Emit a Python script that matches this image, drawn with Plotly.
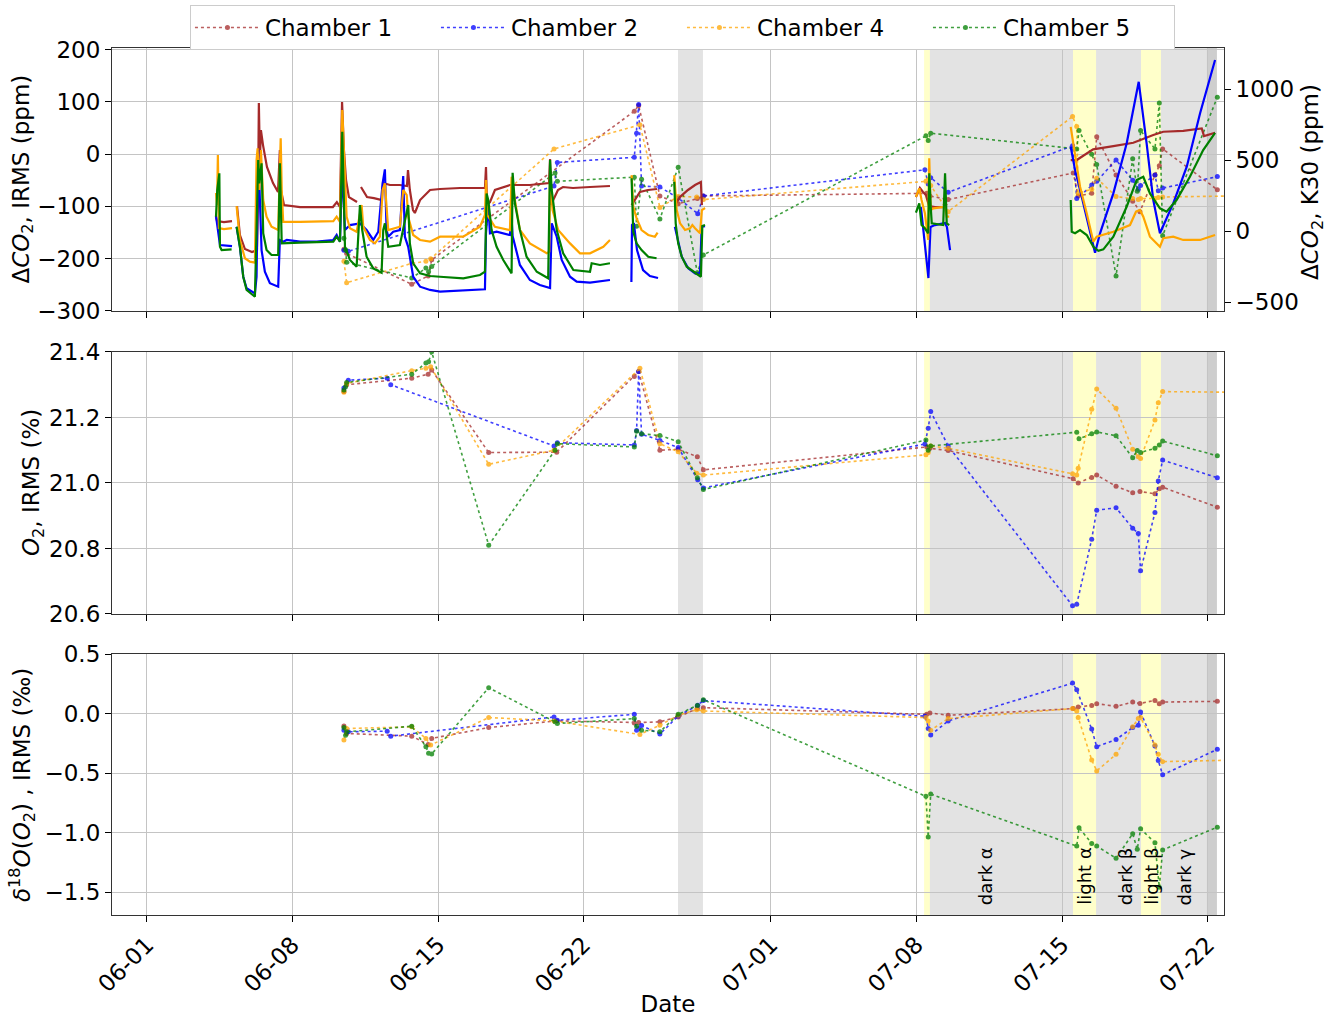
import pandas as pd
import plotly.graph_objects as go

BASE = pd.Timestamp("2021-06-01")
tick_dates = ["2021-06-01", "2021-06-08", "2021-06-15", "2021-06-22",
              "2021-07-01", "2021-07-08", "2021-07-15", "2021-07-22"]
tick_text = ["06-01", "06-08", "06-15", "06-22", "07-01", "07-08", "07-15", "07-22"]
x_range_days = [-1.68, 51.78]

chambers = ["Chamber 1", "Chamber 2", "Chamber 4", "Chamber 5"]
colors = ["#a52a2a", "#0000ff", "#ffa500", "#008000"]

# ---------- IRMS samples (days since 2021-06-01) ----------
c1_t = [9.47, 9.60, 12.73, 13.52, 13.69, 16.43, 19.70, 23.43, 23.64, 24.66, 25.54, 26.46, 26.75,
        37.49, 37.64, 38.52, 44.53, 44.77, 45.42, 45.66, 46.59, 47.39, 47.74, 48.46, 48.67, 48.83, 51.46]
c1_co2 = [-182, -190, -249, -233, -202, None, None, 82, 93, -80, -95, -85, -80,
          -75, -80, -87, -36, -80, -75, 33, -40, -90, -110, -40, -22, 10, -68]
c1_o2 = [21.279, 21.30, 21.32, 21.332, 21.345, 21.093, 21.094, 21.325, 21.34, 21.10, 21.103, 21.08, 21.04,
         21.11, 21.106, 21.099, 21.013, 21.0, 21.017, 21.024, 20.99, 20.97, 20.974, 20.967, 20.982, 20.987, 20.926]
c1_d18 = [-0.105, -0.167, -0.189, -0.26, -0.208, -0.117, -0.061, -0.078, -0.075, -0.069, -0.028, 0.042, 0.05,
          -0.006, 0.006, -0.014, 0.042, 0.056, 0.069, 0.083, 0.061, 0.097, 0.085, 0.111, 0.083, 0.097, 0.103]

c2_t = [9.47, 9.68, 11.55, 11.72, 19.57, 19.73, 23.43, 23.54, 23.64, 23.78, 24.66, 25.54, 26.48, 26.75,
        37.40, 37.56, 37.68, 38.52, 44.50, 44.70, 45.42, 45.66, 46.59, 47.39, 47.66, 47.77, 48.46, 48.62, 48.83, 51.46]
c2_co2 = [-184, -186, None, None, -61, -16, -6, 40, 95, -61, -63, -84, -114, -80,
          -30, -57, -45, -73, 16, -85, -59, -52, -11, -50, -67, -60, -40, -70, -65, -43]
c2_o2 = [21.29, 21.314, 21.32, 21.30, 21.113, 21.123, 21.116, 21.16, 21.34, 21.149, 21.13, 21.108, 21.01, 20.985,
         21.119, 21.167, 21.218, 21.113, 20.625, 20.63, 20.828, 20.917, 20.924, 20.862, 20.846, 20.732, 20.91, 21.006, 21.07, 21.016]
c2_d18 = [-0.139, -0.153, -0.147, -0.189, -0.028, -0.056, -0.006, -0.139, -0.125, -0.10, -0.172, -0.02, 0.07, 0.11,
          -0.022, -0.125, -0.18, -0.061, 0.256, 0.2, -0.13, -0.278, -0.217, -0.117, -0.097, 0.014, -0.272, -0.394, -0.514, -0.3]

c4_t = [9.47, 9.60, 12.73, 13.41, 13.64, 16.43, 19.57, 23.70, 24.66, 25.54, 26.43, 26.75,
        37.45, 37.56, 37.68, 38.52, 44.50, 44.70, 44.77, 45.42, 45.66, 46.59, 47.39, 47.66, 47.77, 48.46, 48.62, 48.83, 52.31]
c4_co2 = [-205, -246, -209, -205, -200, None, 10, 56, -102, -81, -82, -87,
          -52, -49, -60, -110, 72, 53, -75, -67, -46, -81, -85, -87, -85, -85, -83, -82, -80]
c4_o2 = [21.277, 21.304, 21.343, 21.35, 21.355, 21.057, 21.10, 21.35, 21.12, 21.095, 21.03, 21.024,
         21.086, 21.093, 21.113, 21.106, 21.028, 21.024, 21.045, 21.225, 21.287, 21.228, 21.103, 21.08, 21.075, 21.192, 21.245, 21.279, 21.277]
c4_d18 = [-0.222, -0.125, -0.111, -0.208, -0.264, -0.033, -0.061, -0.175, -0.097, -0.014, 0.033, 0.022,
          -0.033, -0.061, -0.139, -0.042, 0.042, 0.022, -0.033, -0.389, -0.481, -0.342, -0.111, -0.042, -0.033, -0.264, -0.342, -0.403, -0.39]

c5_t = [9.47, 9.55, 9.60, 12.73, 13.41, 13.54, 13.69, 16.43, 19.62, 19.73, 23.43, 23.54, 23.78, 24.66, 25.54, 26.46, 26.75,
        37.45, 37.56, 37.68, 44.70, 44.81, 45.42, 45.66, 46.59, 47.39, 47.61, 47.77, 48.46, 48.67, 48.83, 51.46]
c5_co2 = [-161, -183, -207, -237, -218, -225, -215, None, -36, -52, -44, -138, -48, -124, -25, -227, -193,
          35, 26, 40, 10, 45, 0, -20, -233, -9, -71, 45, 10, 98, -156, 109]
c5_o2 = [21.284, 21.294, 21.307, 21.332, 21.366, 21.37, 21.40, 20.81, 21.10, 21.12, 21.11, 21.158, 21.15, 21.145, 21.126, 21.016, 20.98,
         21.131, 21.10, 21.113, 21.155, 21.135, 21.15, 21.156, 21.144, 21.077, 21.099, 21.093, 21.106, 21.116, 21.128, 21.083]
c5_d18 = [-0.117, -0.181, -0.153, -0.106, -0.278, -0.333, -0.339, 0.217, -0.069, -0.083, -0.042, -0.106, -0.139, -0.153, -0.006, 0.069, 0.117,
          -0.694, -1.036, -0.675, -1.111, -0.958, -1.089, -1.111, -1.214, -1.008, -1.139, -0.967, -1.083, -1.458, -1.144, -0.953]

# ---------- K30 continuous records (segments; days since 2021-06-01, ppm) ----------
k30_c1_t = [
    [3.32, 3.37, 3.70, 4.09],
    [4.33, 4.47, 4.71, 5.05, 5.29, 5.34, 5.38, 5.43, 5.48, 5.58, 5.77, 6.06, 6.30, 6.39, 6.44, 6.59, 7.36, 8.32, 8.94, 9.13,
     9.28, 9.38, 9.47, 9.57, 9.71, 10.10],
    [10.29, 10.58, 10.91, 11.30, 11.35, 11.68, 12.16, 12.50, 12.55, 12.64, 12.79, 12.88, 13.13, 13.61, 14.09, 15.05, 16.01,
     16.25, 16.30, 16.35, 16.49, 16.73, 17.45, 18.41, 19.33, 19.38, 19.42, 19.76, 20.00, 20.48, 21.30, 22.26],
    [23.30, 23.46, 23.70, 24.09, 24.52],
    [25.38, 25.62, 26.01, 26.35, 26.63, 26.68],
    [36.97, 37.16, 37.31, 37.45, 37.60, 37.88, 38.32, 38.46],
    [44.41, 44.70, 44.94, 45.49, 46.46, 47.42, 48.38, 48.86, 49.82, 50.71, 50.82, 51.35],
]
k30_c1_v = [
    [99, 70, 63, 70],
    [176, -28, -127, -148, -134, 218, 901, 500, 711, 605, 451, 338, 275, 570, 289, 183, 169, 169, 169, 204,
     169, 908, 570, 359, 239, 204],
    [310, 239, 232, 218, 338, 324, 324, 317, 429, 289, 148, 127, 218, 289, 296, 303, 303,
     303, 451, 183, 204, 289, 324, 324, 338, 507, 183, 289, 310, 303, 310, 317],
    [183, 218, 275, 289, 296],
    [183, 239, 289, 324, 345, 183],
    [239, 303, 275, 253, 176, 169, 169, 190],
    [500, 500, 523, 575, 598, 622, 676, 699, 706, 723, 669, 692],
]

k30_c2_t = [
    [3.32, 3.46, 3.51, 4.09],
    [4.31, 4.47, 4.63, 4.79, 5.19, 5.27, 5.35, 5.51, 5.67, 5.91, 6.31, 6.39, 6.55, 6.72, 7.36, 8.16, 8.96, 9.12, 9.28, 9.39,
     9.52, 9.76, 10.24, 10.56, 10.88, 11.12, 11.33, 11.44, 11.52, 11.60, 11.84, 12.16, 12.32, 12.40, 12.56, 12.80, 13.13,
     13.61, 14.09, 16.25, 16.30, 16.41, 16.49, 16.81, 17.45, 17.53, 17.58, 17.69, 17.93, 18.41, 18.89, 19.38, 19.46, 19.70,
     19.94, 20.34, 20.66, 21.30, 22.26],
    [23.29, 23.32, 23.41, 23.56, 23.85, 24.18, 24.57],
    [25.38, 25.54, 25.71, 26.02, 26.35, 26.59, 26.67, 26.83],
    [37.21, 37.40, 37.57, 37.67, 37.88, 38.37, 38.46, 38.61],
    [44.41, 44.62, 44.94, 45.34, 45.58, 45.82, 46.46, 47.10, 47.68, 48.06, 48.38, 48.70, 49.34, 49.99, 50.63, 51.35],
]
k30_c2_v = [
    [106, -63, -99, -106],
    [30, -111, -322, -403, -439, -322, 570, -134, -287, -368, -392, -63, -75, -63, -75, -75, -63, -28, -75, 453,
     7, 42, 54, 7, -63, -5, 336, 434, 7, -40, -5, 7, 387, -40, -111, -322, -392,
     -415, -427, -410, -16, 195, -16, -5, -28, 89, -35, -99, -239, -345, -380, -401, 54, -40,
     -204, -322, -357, -364, -345],
    [-359, 42, 56, -134, -275, -317, -331],
    [30, -63, -181, -263, -298, -298, 30, 35],
    [169, -113, -331, 28, 42, 56, 28, -134],
    [593, 429, 241, 7, -153, -16, 265, 617, 1051, 617, 218, -16, 195, 453, 829, 1204],
]

k30_c4_t = [
    [3.32, 3.37, 3.41, 3.46, 3.70, 4.09],
    [4.31, 4.47, 4.71, 4.95, 5.19, 5.27, 5.32, 5.40, 5.48, 5.59, 5.75, 5.99, 6.31, 6.43, 6.48, 6.55, 7.36, 8.96, 9.12, 9.28,
     9.39, 9.47, 9.60, 9.76, 10.08, 10.32, 10.40, 10.72, 10.96, 11.20, 11.33, 11.44, 11.60, 12.16, 12.32, 12.49, 12.56,
     12.80, 13.13, 13.61, 14.09, 15.20, 16.01, 16.25, 16.30, 16.36, 16.57, 16.73, 17.45, 17.53, 17.69, 17.93, 18.41, 19.22,
     19.34, 19.38, 19.50, 19.77, 20.34, 20.82, 21.30, 21.94, 22.26],
    [23.30, 23.38, 23.54, 23.78, 24.10, 24.42, 24.55],
    [25.35, 25.47, 25.63, 25.87, 26.11, 26.22, 26.35, 26.59, 26.68, 26.83],
    [36.97, 37.13, 37.24, 37.40, 37.56, 37.61, 37.68, 37.81, 38.37, 38.45, 38.57],
    [44.41, 44.53, 44.86, 45.18, 45.50, 45.66, 46.46, 47.26, 47.55, 47.74, 47.90, 48.22, 48.70, 48.86, 49.34, 49.82,
     50.63, 51.35],
]
k30_c4_v = [
    [268, 183, 535, 21, 14, 21],
    [176, -63, -192, -216, -223, 500, 582, 289, 570, 218, 101, 30, 7, 653, 289, 65, 65, 70, 101, 65,
     852, 570, 101, 19, -5, 183, 30, -63, -87, -40, 289, 336, 7, 30, 289, 253, 101,
     -28, -63, -75, -40, -40, 30, 113, 359, 113, 65, 30, 7, 382, 218, 7, -87, -157,
     -146, 429, 148, 7, -87, -157, -157, -111, -63],
    [394, 171, 89, 7, -28, -40, -12],
    [394, 148, 54, 7, 19, 42, 19, -16, 148, 162],
    [241, 301, 218, 125, -63, 512, 148, 160, 171, 101, 101],
    [734, 617, 312, 125, -75, -40, -5, 42, 136, 148, 101, -40, -111, -51, -40, -63, -63, -28],
]

k30_c5_t = [
    [3.32, 3.38, 3.48, 3.51, 3.59, 4.07],
    [4.31, 4.47, 4.63, 4.79, 5.19, 5.27, 5.35, 5.40, 5.51, 5.59, 5.75, 5.99, 6.31, 6.39, 6.48, 7.36, 8.96, 9.12, 9.28, 9.39,
     9.47, 9.52, 9.76, 10.08, 10.24, 10.35, 10.56, 10.88, 11.28, 11.36, 11.44, 11.60, 12.16, 12.56, 12.64, 12.80, 13.13,
     13.61, 14.09, 15.21, 16.01, 16.25, 16.33, 16.41, 16.57, 16.81, 17.13, 17.45, 17.53, 17.58, 17.69, 17.93, 18.25, 18.74,
     19.29, 19.38, 19.46, 19.70, 20.01, 20.50, 21.30, 21.38, 21.78, 22.26],
    [23.30, 23.38, 23.54, 23.78, 24.10, 24.50],
    [25.35, 25.42, 25.54, 25.71, 25.95, 26.35, 26.63, 26.70, 26.83],
    [36.97, 37.13, 37.24, 37.40, 37.56, 37.61, 37.68, 37.73, 38.28, 38.37, 38.45, 38.57],
    [44.41, 44.46, 44.62, 44.86, 45.18, 45.50, 45.74, 45.98, 46.46, 47.10, 47.58, 47.90, 48.22, 48.70, 49.02, 49.50,
     50.14, 50.78, 51.35],
]
k30_c5_v = [
    [101, 289, 406, -111, -134, -129],
    [30, -111, -322, -415, -463, -63, 500, 336, 477, -16, -134, -169, -169, 477, -87, -82, -75, -40, -75, 699,
     289, -111, -204, -251, 183, 7, -181, -263, -294, 7, 54, -111, -99, 183, -87, -227, -298,
     -317, -322, -333, -310, -287, 265, 218, 7, -111, -204, -275, -298, 410, 195, 7, -181, -287,
     -333, 500, 289, 7, -157, -275, -287, -227, -239, -227],
    [371, -5, -87, -134, -181, -192],
    [347, 54, -87, -181, -251, -294, -322, 35, 42],
    [129, 195, 42, 19, -16, 406, 171, 54, 42, 406, 54, 42],
    [218, -5, -16, 7, -28, -111, -139, -129, -40, 171, 359, 382, 265, 160, 136, 218, 382, 570, 692],
]

# ---------- experimental phases (days since 2021-06-01) ----------
gray_periods = [(25.53, 26.73), (37.64, 44.52), (45.63, 47.79), (48.75, 51.44), (50.96, 51.44)]
yellow_periods = [(37.36, 37.64), (44.52, 45.63), (47.79, 48.75)]
phase_labels = ["dark α", "light α", "dark β", "light β", "dark γ"]
phase_label_days = [40.29, 45.10, 47.02, 48.32, 49.90]

# axis titles
title_co2_irms = "Δ<i>CO</i><sub>2</sub>, IRMS (ppm)"
title_co2_k30 = "Δ<i>CO</i><sub>2</sub>, K30 (ppm)"
title_o2 = "<i>O</i><sub>2</sub>, IRMS (%)"
title_d18 = "<i>δ</i><sup>18</sup><i>O</i>(<i>O</i><sub>2</sub>) , IRMS (‰)"


def to_dates(days):
    return [None if d is None else BASE + pd.Timedelta(days=d) for d in days]


def join_segments(seg_t, seg_v):
    xs, ys = [], []
    for tt, vv in zip(seg_t, seg_v):
        xs += to_dates(tt) + [None]
        ys += list(vv) + [None]
    return xs, ys


irms = [
    (c1_t, c1_co2, c1_o2, c1_d18),
    (c2_t, c2_co2, c2_o2, c2_d18),
    (c4_t, c4_co2, c4_o2, c4_d18),
    (c5_t, c5_co2, c5_o2, c5_d18),
]
k30 = [(k30_c1_t, k30_c1_v), (k30_c2_t, k30_c2_v), (k30_c4_t, k30_c4_v), (k30_c5_t, k30_c5_v)]

FONT = "DejaVu Sans"
fig = go.Figure()

for i, name in enumerate(chambers):
    t, co2, o2, d18 = irms[i]
    dates = to_dates(t)
    common = dict(mode="lines+markers", line=dict(color=colors[i], width=1.6, dash="dot"),
                  marker=dict(color=colors[i], size=5), opacity=0.75, legendgroup=name,
                  connectgaps=True)
    fig.add_trace(go.Scatter(x=dates, y=co2, name=name, showlegend=True, xaxis="x", yaxis="y", **common))
    fig.add_trace(go.Scatter(x=dates, y=o2, name=name, showlegend=False, xaxis="x2", yaxis="y3", **common))
    fig.add_trace(go.Scatter(x=dates, y=d18, name=name, showlegend=False, xaxis="x3", yaxis="y4", **common))

for i, name in enumerate(chambers):
    xs, ys = join_segments(*k30[i])
    fig.add_trace(go.Scatter(x=xs, y=ys, mode="lines", name=name, showlegend=False, legendgroup=name,
                             line=dict(color=colors[i], width=2.2), xaxis="x", yaxis="y2"))

# shaded periods across all three panels
for yref in ["y domain", "y3 domain", "y4 domain"]:
    for a, b in gray_periods:
        fig.add_shape(type="rect", xref="x", yref=yref, x0=BASE + pd.Timedelta(days=a),
                      x1=BASE + pd.Timedelta(days=b), y0=0, y1=1, fillcolor="rgba(150,150,150,0.27)",
                      line_width=0, layer="below")
    for a, b in yellow_periods:
        fig.add_shape(type="rect", xref="x", yref=yref, x0=BASE + pd.Timedelta(days=a),
                      x1=BASE + pd.Timedelta(days=b), y0=0, y1=1, fillcolor="rgba(255,255,60,0.27)",
                      line_width=0, layer="below")

for lab, d in zip(phase_labels, phase_label_days):
    fig.add_annotation(x=BASE + pd.Timedelta(days=d), y=0.03, xref="x3", yref="y4 domain", text=lab,
                       textangle=-90, showarrow=False, xanchor="center", yanchor="bottom",
                       font=dict(family=FONT, size=18, color="black"))

# y-axis titles placed as rotated annotations
for txt, xp, yp in [(title_co2_irms, -0.0809, 0.8483), (title_o2, -0.0710, 0.4983),
                    (title_d18, -0.0809, 0.150), (title_co2_k30, 1.0791, 0.8454)]:
    fig.add_annotation(x=xp, y=yp, xref="paper", yref="paper", text=txt, textangle=-90, showarrow=False,
                       xanchor="center", yanchor="middle", font=dict(family=FONT, size=23, color="black"))

xr = [BASE + pd.Timedelta(days=x_range_days[0]), BASE + pd.Timedelta(days=x_range_days[1])]
grid = "#c4c4c4"
xcommon = dict(type="date", range=xr, tickvals=tick_dates, ticktext=tick_text, showgrid=True, gridcolor=grid,
               gridwidth=1, ticks="outside", ticklen=6, tickcolor="black", showline=True, linecolor="#333333",
               linewidth=1.2, mirror=True, zeroline=False, domain=[0, 1], automargin=False)
ycommon = dict(showgrid=True, gridcolor=grid, gridwidth=1, ticks="outside", ticklen=6, tickcolor="black",
               showline=True, linecolor="#333333", linewidth=1.2, mirror=True, zeroline=False,
               tickfont=dict(size=23), automargin=False)

fig.update_layout(
    width=1330, height=1017,
    margin=dict(l=112, r=106, t=48, b=102, autoexpand=False),
    paper_bgcolor="white", plot_bgcolor="white",
    font=dict(family=FONT, size=23, color="black"),
    xaxis=dict(anchor="y", showticklabels=False, **xcommon),
    xaxis2=dict(anchor="y3", matches="x", showticklabels=False, **xcommon),
    xaxis3=dict(anchor="y4", matches="x", showticklabels=True, tickangle=-45, tickfont=dict(size=23),
                title=dict(text="Date", font=dict(size=23), standoff=8), **xcommon),
    yaxis=dict(domain=[0.6967, 1.0], anchor="x", range=[-300, 203], tickvals=[-300, -200, -100, 0, 100, 200],
               **ycommon),
    yaxis2=dict(overlaying="y", side="right", anchor="x", range=[-563, 1289], tickvals=[-500, 0, 500, 1000],
                showgrid=False, ticks="outside", ticklen=6, tickcolor="black", zeroline=False, tickfont=dict(size=23),
                automargin=False),
    yaxis3=dict(domain=[0.3472, 0.6494], anchor="x2", range=[20.6, 21.4],
                tickvals=[20.6, 20.8, 21.0, 21.2, 21.4], tickformat=".1f", **ycommon),
    yaxis4=dict(domain=[0.0, 0.301], anchor="x3", range=[-1.69, 0.5],
                tickvals=[-1.5, -1.0, -0.5, 0.0, 0.5], tickformat=".1f", **ycommon),
    legend=dict(orientation="h", x=0.0701, xanchor="left", y=1.0496, yanchor="top",
                bordercolor="#cccccc", borderwidth=1, bgcolor="white", font=dict(size=23),
                entrywidth=166, itemwidth=65),
)

fig.write_html("out.html")
